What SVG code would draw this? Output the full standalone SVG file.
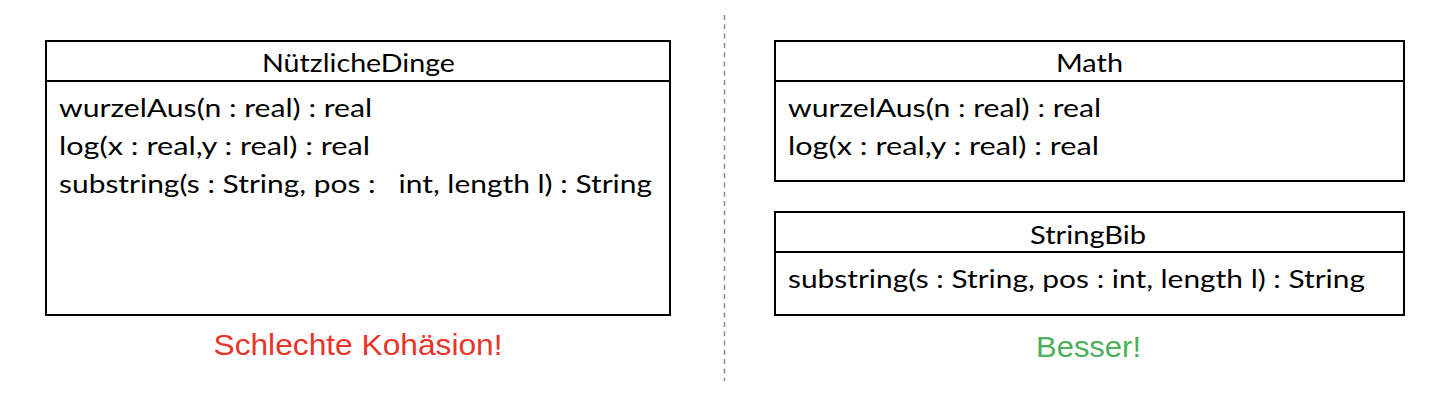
<svg xmlns="http://www.w3.org/2000/svg" width="1434" height="404" viewBox="0 0 1434 404">
<style>
.box{fill:#fff;stroke:#000;stroke-width:2}
.div{stroke:#000;stroke-width:2}
.t{font-family:Lato,"Open Sans","Noto Sans",sans-serif;font-size:25px;fill:#000}
.h{text-anchor:middle}
.lbl{font-family:"Liberation Sans",Arial,sans-serif;font-size:30px;text-anchor:middle}
</style>
<rect width="1434" height="404" fill="#fff"/>
<g id="separator">
<line x1="724.5" y1="15" x2="724.5" y2="381" stroke="#8a8a8a" stroke-width="1.5" stroke-dasharray="5,4.3"/>
</g>
<g id="NuetzlicheDinge">
<rect class="box" x="46" y="41" width="624" height="274"/>
<line class="div" x1="46" y1="81" x2="670" y2="81"/>
<text class="t h" x="358.5" y="72" textLength="193" lengthAdjust="spacingAndGlyphs">NützlicheDinge</text>
<text class="t" x="59" y="117" textLength="313" lengthAdjust="spacingAndGlyphs">wurzelAus(n : real) : real</text>
<text class="t" x="59" y="155" textLength="311" lengthAdjust="spacingAndGlyphs">log(x : real,y : real) : real</text>
<text class="t" x="59" y="193" textLength="593" lengthAdjust="spacingAndGlyphs" xml:space="preserve">substring(s : String, pos :   int, length l) : String</text>
</g>
<g id="Math">
<rect class="box" x="775" y="41" width="629" height="140"/>
<line class="div" x1="775" y1="81" x2="1404" y2="81"/>
<text class="t h" x="1089.5" y="72" textLength="67" lengthAdjust="spacingAndGlyphs">Math</text>
<text class="t" x="788" y="117" textLength="313" lengthAdjust="spacingAndGlyphs">wurzelAus(n : real) : real</text>
<text class="t" x="788" y="155" textLength="311" lengthAdjust="spacingAndGlyphs">log(x : real,y : real) : real</text>
</g>
<g id="StringBib">
<rect class="box" x="775" y="212" width="629" height="103"/>
<line class="div" x1="775" y1="252" x2="1404" y2="252"/>
<text class="t h" x="1088" y="244" textLength="116" lengthAdjust="spacingAndGlyphs">StringBib</text>
<text class="t" x="788" y="288" textLength="577" lengthAdjust="spacingAndGlyphs">substring(s : String, pos : int, length l) : String</text>
</g>
<g id="labels">
<text class="lbl" x="358" y="355" fill="#e8352b" textLength="289" lengthAdjust="spacingAndGlyphs">Schlechte Kohäsion!</text>
<text class="lbl" x="1088.5" y="357" fill="#4daf5b" textLength="105" lengthAdjust="spacingAndGlyphs">Besser!</text>
</g>
</svg>
